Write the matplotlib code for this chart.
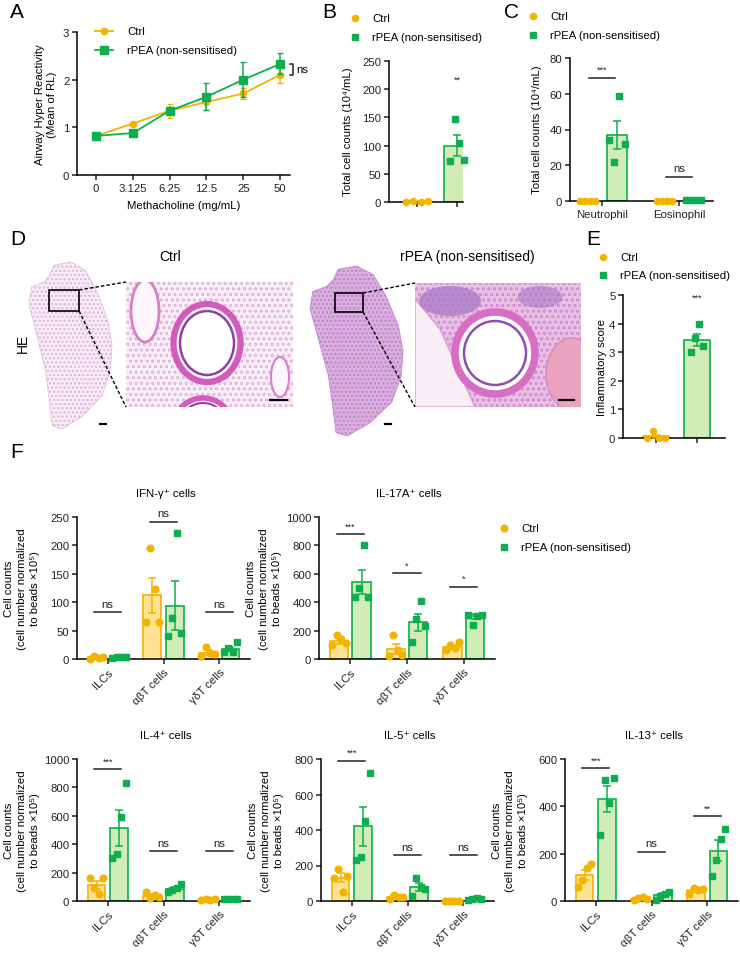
import matplotlib
matplotlib.use("Agg")
import matplotlib.pyplot as plt
from matplotlib.lines import Line2D
from matplotlib.patches import Rectangle, Ellipse, Polygon

plt.rcParams['font.family'] = ['Liberation Sans', 'DejaVu Sans']
plt.rcParams['hatch.linewidth'] = 0.4

W, H = 740, 954
CTRL, CTRL_FILL = "#F2B400", "#FFE393"
RPEA, RPEA_FILL = "#0DAE4F", "#D2ECB8"
FS = 8.2

# ---- panel A: airway hyper reactivity ----
dose_labels = ["0", "3.125", "6.25", "12.5", "25", "50"]
ahr_ctrl = [0.82, 1.08, 1.35, 1.53, 1.71, 2.10]
ahr_ctrl_err = [0.02, 0.03, 0.15, 0.17, 0.12, 0.17]
ahr_rpea = [0.82, 0.88, 1.35, 1.64, 2.00, 2.33]
ahr_rpea_err = [0.02, 0.05, 0.07, 0.28, 0.37, 0.22]

# ---- panel B: total BAL cells ----
balf_ctrl_pts = [0, 2, 0, 2]
balf_rpea_pts = [72, 148, 105, 74]
balf_mean = [1.5, 100]
balf_sem = [0.5, 18]

# ---- panel C: neutrophil / eosinophil ----
cell_types = ["Neutrophil", "Eosinophil"]
diff_ctrl_pts = [[0, 0, 0, 0], [0, 0, 0, 0]]
diff_rpea_pts = [[34, 22, 59, 32], [0.5, 0.5, 0.5, 0.5]]
diff_ctrl_mean = [0, 0]
diff_ctrl_sem = [0, 0]
diff_rpea_mean = [37, 0.5]
diff_rpea_sem = [8, 0]
diff_sig = [(69, "***"), (13.5, "ns")]

# ---- panel E: inflammatory score ----
score_ctrl_pts = [0, 0.25, 0, 0]
score_rpea_pts = [3.0, 3.5, 4.0, 3.2]
score_mean = [0.06, 3.43]
score_sem = [0.06, 0.2]

# ---- panel F: cytokine+ cells ----
f_groups = ["ILCs", "αβT cells", "γδT cells"]

ifn_ctrl_pts = [[0, 5, 2, 3], [65, 196, 123, 65], [5, 22, 10, 8]]
ifn_ctrl_mean = [3, 112, 11]
ifn_ctrl_sem = [1, 31, 4]
ifn_rpea_pts = [[2, 3, 4, 3], [40, 72, 221, 45], [12, 20, 13, 30]]
ifn_rpea_mean = [3, 94, 18]
ifn_rpea_sem = [1, 43, 4]
ifn_sig = [(82, "ns"), (242, "ns"), (82, "ns")]

il17_ctrl_pts = [[100, 170, 140, 110], [20, 170, 60, 30], [60, 100, 80, 120]]
il17_ctrl_mean = [125, 70, 85]
il17_ctrl_sem = [22, 37, 14]
il17_rpea_pts = [[440, 500, 800, 440], [120, 280, 405, 230], [310, 240, 300, 310]]
il17_rpea_mean = [545, 260, 300]
il17_rpea_sem = [85, 60, 15]
il17_sig = [(881, "***"), (605, "*"), (509, "*")]

il4_ctrl_pts = [[160, 90, 50, 165], [60, 20, 40, 25], [5, 12, 10, 15]]
il4_ctrl_mean = [113, 37, 10]
il4_ctrl_sem = [28, 9, 3]
il4_rpea_pts = [[300, 330, 590, 830], [60, 80, 90, 120], [12, 15, 15, 15]]
il4_rpea_mean = [515, 85, 15]
il4_rpea_sem = [125, 13, 1]
il4_sig = [(930, "***"), (351, "ns"), (351, "ns")]

il5_ctrl_pts = [[130, 180, 50, 140], [10, 35, 20, 25], [0, 0, 0, 0]]
il5_ctrl_mean = [130, 23, 0]
il5_ctrl_sem = [25, 5, 0]
il5_rpea_pts = [[230, 250, 450, 720], [30, 130, 80, 70], [5, 10, 15, 10]]
il5_rpea_mean = [420, 78, 10]
il5_rpea_sem = [110, 22, 2]
il5_sig = [(791, "***"), (257, "ns"), (257, "ns")]

il13_ctrl_pts = [[60, 90, 140, 155], [5, 12, 15, 10], [30, 55, 45, 50]]
il13_ctrl_mean = [110, 10, 45]
il13_ctrl_sem = [22, 2, 5]
il13_rpea_pts = [[280, 510, 415, 520], [5, 20, 30, 40], [105, 175, 260, 305]]
il13_rpea_mean = [430, 24, 212]
il13_rpea_sem = [55, 8, 45]
il13_sig = [(561, "***"), (208, "ns"), (359, "**")]

fig = plt.figure(figsize=(W / 100, H / 100), dpi=100)


def px_axes(l, t, r, b):
    return fig.add_axes([l / W, 1 - b / H, (r - l) / W, (b - t) / H])


def ftext(x, y, s, **kw):
    kw.setdefault("fontsize", FS)
    kw.setdefault("ha", "left")
    kw.setdefault("va", "center")
    return fig.text(x / W, 1 - y / H, s, **kw)


def style(ax):
    for side in ("top", "right"):
        ax.spines[side].set_visible(False)
    for side in ("left", "bottom"):
        ax.spines[side].set_linewidth(1.1)
    ax.tick_params(labelsize=FS, length=3.5, width=1.1, pad=2, colors="#222")


def legend_entry(x, y, marker, color, label, ms, line=False):
    if line:
        fig.add_artist(Line2D([(x - 9) / W, (x + 9) / W], [1 - y / H] * 2,
                              transform=fig.transFigure, color=color, lw=1.3))
    fig.add_artist(Line2D([x / W], [1 - y / H], transform=fig.transFigure,
                          marker=marker, color=color, ms=ms, ls="none"))
    ftext(x + (23 if line else 17), y, label, fontsize=FS)


def bar_group(ax, x, mean, sem, pts, color, fill, marker, width, spread, ms, show_bar=True):
    if show_bar:
        ax.bar(x, mean, width=width, color=fill, edgecolor=color, linewidth=1.2, zorder=1)
    n = len(pts)
    xs = [x + spread * (2 * i - (n - 1)) / (n - 1) for i in range(n)]
    ax.plot(xs, pts, ls="none", marker=marker, color=color, ms=ms, zorder=3, clip_on=False)
    if sem > 0:
        ax.errorbar(x, mean, yerr=sem, color=color, capsize=3, elinewidth=1.1,
                    capthick=1.1, zorder=4, fmt="none")


def sig(ax, x, y, label, half, ymax):
    ax.plot([x - half, x + half], [y, y], color="#222", lw=1.1, clip_on=False)
    fs = 6.5 if "*" in label else FS
    ax.text(x, y + ymax * 0.025, label, ha="center", va="bottom", fontsize=fs, color="#222")


# ---------------- panel A ----------------
axA = px_axes(77, 33, 290, 176)
style(axA)
xpos = list(range(len(dose_labels)))
axA.errorbar(xpos, ahr_ctrl, yerr=ahr_ctrl_err, color=CTRL, marker="o", ms=4.5,
             lw=1.3, capsize=2.5, elinewidth=1.1, zorder=3)
axA.errorbar(xpos, ahr_rpea, yerr=ahr_rpea_err, color=RPEA, marker="s", ms=5.5,
             lw=1.3, capsize=2.5, elinewidth=1.1, zorder=4)
axA.set_xlim(-0.52, 5.27)
axA.set_ylim(0, 3)
axA.set_yticks([0, 1, 2, 3])
axA.set_xticks(xpos)
axA.set_xticklabels(dose_labels)
axA.set_xlabel("Methacholine (mg/mL)", fontsize=FS, labelpad=5)
axA.plot([5.28, 5.36, 5.36, 5.28], [ahr_ctrl[-1], ahr_ctrl[-1], ahr_rpea[-1], ahr_rpea[-1]],
         color="#222", lw=1.1, clip_on=False)
axA.text(5.45, (ahr_ctrl[-1] + ahr_rpea[-1]) / 2, "ns", fontsize=FS, va="center")
ftext(46, 105, "Airway Hyper Reactivity\n(Mean of RL)", fontsize=FS, rotation=90,
      ha="center", linespacing=1.3)
legend_entry(104, 32, "o", CTRL, "Ctrl", 4.5, line=True)
legend_entry(104, 51, "s", RPEA, "rPEA (non-sensitised)", 5.5, line=True)

# ---------------- panel B ----------------
axB = px_axes(389, 62, 463, 203)
style(axB)
bar_group(axB, 0, balf_mean[0], balf_sem[0], balf_ctrl_pts, CTRL, CTRL_FILL, "o", 0.67, 0.28, 4.5)
bar_group(axB, 1, balf_mean[1], balf_sem[1], balf_rpea_pts, RPEA, RPEA_FILL, "s", 0.67, 0.18, 4.5)
axB.set_xlim(-0.7, 1.15)
axB.set_ylim(0, 250)
axB.set_yticks(range(0, 251, 50))
axB.set_xticks([0, 1])
axB.set_xticklabels([])
axB.text(1, 210, "**", ha="center", va="bottom", fontsize=6.5, color="#222")
ftext(348, 132, "Total cell counts (10⁴/mL)", rotation=90, ha="center", fontsize=FS)
legend_entry(355, 19, "o", CTRL, "Ctrl", 4.5)
legend_entry(355, 38, "s", RPEA, "rPEA (non-sensitised)", 4.5)

# ---------------- panel C ----------------
axC = px_axes(570, 59, 713, 202)
style(axC)
for i in range(len(cell_types)):
    bar_group(axC, i - 0.19, diff_ctrl_mean[i], diff_ctrl_sem[i], diff_ctrl_pts[i],
              CTRL, CTRL_FILL, "o", 0.26, 0.1, 4.5, show_bar=diff_ctrl_mean[i] > 0)
    bar_group(axC, i + 0.19, diff_rpea_mean[i], diff_rpea_sem[i], diff_rpea_pts[i],
              RPEA, RPEA_FILL, "s", 0.26, 0.1, 4.5, show_bar=diff_rpea_mean[i] > 1)
    sig(axC, i, diff_sig[i][0], diff_sig[i][1], 0.17, 80)
axC.set_xlim(-0.42, 1.44)
axC.set_ylim(0, 80)
axC.set_yticks(range(0, 81, 20))
axC.set_xticks(range(len(cell_types)))
axC.set_xticklabels(cell_types, fontsize=FS)
ftext(537, 130, "Total cell counts (10⁴/mL)", rotation=90, ha="center", fontsize=FS)
legend_entry(533, 17, "o", CTRL, "Ctrl", 4.5)
legend_entry(533, 36, "s", RPEA, "rPEA (non-sensitised)", 4.5)

# ---------------- panel E ----------------
axE = px_axes(623, 296, 725, 439)
style(axE)
bar_group(axE, 0, score_mean[0], score_sem[0], score_ctrl_pts, CTRL, CTRL_FILL, "o", 0.63, 0.22, 4.3)
bar_group(axE, 1, score_mean[1], score_sem[1], score_rpea_pts, RPEA, RPEA_FILL, "s", 0.63, 0.14, 4.3)
axE.set_xlim(-0.8, 1.68)
axE.set_ylim(0, 5)
axE.set_yticks(range(6))
axE.set_xticks([0, 1])
axE.set_xticklabels([])
axE.text(1, 4.75, "***", ha="center", va="bottom", fontsize=6.5, color="#222")
ftext(602, 368, "Inflammatory score", rotation=90, ha="center", fontsize=FS)
legend_entry(603, 258, "o", CTRL, "Ctrl", 4.3)
legend_entry(603, 276, "s", RPEA, "rPEA (non-sensitised)", 4.3)

# ---------------- panel F ----------------
f_panels = [
    ("IFN-γ⁺ cells", (77, 518, 250, 660), 250, 50,
     ifn_ctrl_pts, ifn_ctrl_mean, ifn_ctrl_sem, ifn_rpea_pts, ifn_rpea_mean, ifn_rpea_sem, ifn_sig),
    ("IL-17A⁺ cells", (319, 518, 495, 660), 1000, 200,
     il17_ctrl_pts, il17_ctrl_mean, il17_ctrl_sem, il17_rpea_pts, il17_rpea_mean, il17_rpea_sem, il17_sig),
    ("IL-4⁺ cells", (77, 760, 250, 902), 1000, 200,
     il4_ctrl_pts, il4_ctrl_mean, il4_ctrl_sem, il4_rpea_pts, il4_rpea_mean, il4_rpea_sem, il4_sig),
    ("IL-5⁺ cells", (321, 760, 494, 902), 800, 200,
     il5_ctrl_pts, il5_ctrl_mean, il5_ctrl_sem, il5_rpea_pts, il5_rpea_mean, il5_rpea_sem, il5_sig),
    ("IL-13⁺ cells", (565, 760, 738, 902), 600, 200,
     il13_ctrl_pts, il13_ctrl_mean, il13_ctrl_sem, il13_rpea_pts, il13_rpea_mean, il13_rpea_sem, il13_sig),
]

for title, (l, t, r, b), ymax, step, cp, cm, cs, rp, rm, rs, sg in f_panels:
    ax = px_axes(l, t, r, b)
    style(ax)
    for i in range(len(f_groups)):
        bar_group(ax, i - 0.2, cm[i], cs[i], cp[i], CTRL, CTRL_FILL, "o", 0.32, 0.12, 4.8)
        bar_group(ax, i + 0.2, rm[i], rs[i], rp[i], RPEA, RPEA_FILL, "s", 0.32, 0.12, 4.5)
        sig(ax, i, sg[i][0], sg[i][1], 0.24, ymax)
    ax.set_xlim(-0.55, 2.55)
    ax.set_ylim(0, ymax)
    ax.set_yticks(range(0, ymax + 1, step))
    ax.set_xticks(range(len(f_groups)))
    ax.set_xticklabels(f_groups, rotation=45, ha="right", rotation_mode="anchor", fontsize=FS)
    ftext((l + r) / 2 + 2, t - 24, title, ha="center", fontsize=FS)
    ftext(l - 55, (t + b) / 2, "Cell counts\n(cell number normalized\nto beads ×10⁵)",
          rotation=90, ha="center", fontsize=FS, linespacing=1.4)

legend_entry(504, 529, "o", CTRL, "Ctrl", 4.8)
legend_entry(504, 548, "s", RPEA, "rPEA (non-sensitised)", 4.5)

# ---------------- panel D: HE histology (schematic) ----------------
axD = fig.add_axes([0, 0, 1, 1])
axD.set_xlim(0, W)
axD.set_ylim(H, 0)
axD.axis("off")
axD.set_zorder(-1)

lung_outline = [(0.30, 0.02), (0.50, 0.0), (0.68, 0.05), (0.82, 0.18), (0.95, 0.35),
                (1.0, 0.5), (0.98, 0.65), (0.88, 0.8), (0.65, 0.92), (0.40, 1.0),
                (0.28, 0.98), (0.25, 0.85), (0.20, 0.65), (0.10, 0.45), (0.0, 0.25),
                (0.03, 0.15), (0.18, 0.12), (0.25, 0.08)]


def draw_lung(x0, y0, w, h, face, hatch_col):
    pts = [(x0 + u * w, y0 + v * h) for u, v in lung_outline]
    axD.add_patch(Polygon(pts, closed=True, facecolor=face, edgecolor=hatch_col,
                          hatch="oooo", lw=0.6))


draw_lung(29, 263, 83, 167, "#f8ecf6", "#e2bde0")
draw_lung(310, 267, 93, 170, "#dcaedf", "#c08ccd")

# ctrl inset
rect1 = Rectangle((126, 283), 167, 125, facecolor="#f9eef7", edgecolor="#deb0d9",
                  hatch="ooo", lw=0)
axD.add_patch(rect1)
for patch in [Ellipse((145, 312), 28, 62, facecolor="#fdf7fc", edgecolor="#d77fc9", lw=2),
              Ellipse((280, 378), 18, 40, facecolor="#fdf7fc", edgecolor="#d77fc9", lw=1.5),
              Ellipse((203, 424), 55, 50, facecolor="white", edgecolor="#d35bbd", lw=4),
              Ellipse((203, 424), 44, 40, facecolor="white", edgecolor="#8f3fa6", lw=1.5),
              Ellipse((207, 344), 67, 78, facecolor="white", edgecolor="#d35bbd", lw=4.5),
              Ellipse((207, 344), 54, 64, facecolor="white", edgecolor="#8f3fa6", lw=1.8)]:
    axD.add_patch(patch)
    patch.set_clip_path(rect1)

# rPEA inset
rect2 = Rectangle((415, 284), 166, 124, facecolor="#ebbfe3", edgecolor="#c98ad0",
                  hatch="ooo", lw=0)
axD.add_patch(rect2)
for patch in [Polygon([(415, 300), (440, 330), (475, 408), (415, 408)], facecolor="#f8eef6",
                      edgecolor="#dd9bd2", lw=1),
              Ellipse((450, 302), 62, 30, facecolor="#a978c6", edgecolor="none", alpha=0.75),
              Ellipse((540, 298), 45, 22, facecolor="#a978c6", edgecolor="none", alpha=0.6),
              Ellipse((572, 375), 52, 72, facecolor="#eaa3bf", edgecolor="#d98ec2", lw=1.2),
              Ellipse((495, 354), 80, 82, facecolor="white", edgecolor="#d66fc4", lw=5.5),
              Ellipse((495, 354), 62, 64, facecolor="white", edgecolor="#8c4fb0", lw=1.8)]:
    axD.add_patch(patch)
    patch.set_clip_path(rect2)

# zoom boxes and connectors
for (bx, by, bw, bh), (ix, it, ib) in [((49, 291, 30, 21), (126, 283, 408)),
                                       ((335, 294, 28, 19), (415, 284, 408))]:
    axD.add_patch(Rectangle((bx, by), bw, bh, fill=False, edgecolor="black", lw=1.2))
    axD.plot([bx + bw, ix], [by, it], color="black", lw=1, ls=(0, (2.5, 1.5)))
    axD.plot([bx + bw, ix], [by + bh, ib], color="black", lw=1, ls=(0, (2.5, 1.5)))

# scale bars
for x0, x1, y in [(100, 106, 425), (385, 391, 425), (270, 287, 401), (559, 574, 401)]:
    axD.plot([x0, x1], [y, y], color="black", lw=1.6)

ftext(170, 257, "Ctrl", ha="center", fontsize=10)
ftext(467, 257, "rPEA (non-sensitised)", ha="center", fontsize=10)
ftext(23, 343, "HE", rotation=90, ha="center", fontsize=10)

# panel letters
for letter, x, y in [("A", 10, 13), ("B", 322, 13), ("C", 504, 13), ("D", 10, 240),
                     ("E", 586, 240), ("F", 10, 453)]:
    ftext(x, y, letter, fontsize=15)

fig.savefig("out.png", dpi=100)
